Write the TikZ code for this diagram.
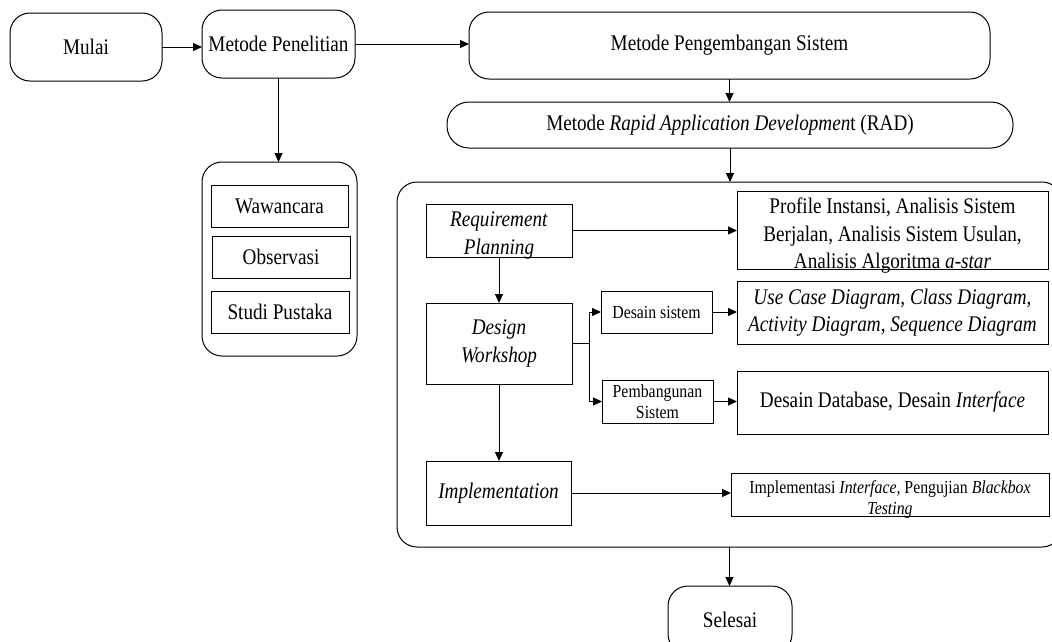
\documentclass[tikz,border=0pt]{standalone}
\usepackage{fontspec}
\setmainfont{Liberation Serif}[FakeStretch=0.86]
\usetikzlibrary{arrows.meta}
\newcommand\bigtxt{\fontsize{22.3}{27.5}\selectfont}
\newcommand\smalltxt{\fontsize{18.4}{21}\selectfont}
\begin{document}
\begin{tikzpicture}[x=1pt,y=-1pt,
  every node/.style={inner sep=2pt, outer sep=0pt, align=center, font=\bigtxt},
  rbox/.style={draw, line width=1pt, rounded corners=20pt},
  sbox/.style={draw, line width=1pt},
  conn/.style={line width=1pt, -{Triangle[length=9pt,width=8pt]}},
  plain/.style={line width=1pt}]
\clip (0,0) rectangle (1052,641);

% start and research method
\node[rbox, minimum width=152pt, minimum height=68pt] (mulai) at (86,47) {Mulai};
\node[rbox, minimum width=153pt, minimum height=68pt] (mp) at (278.5,44) {Metode Penelitian};

% data collection methods
\node[rbox, minimum width=155pt, minimum height=194pt] (mc) at (279.5,259) {};
\node[sbox, minimum width=137pt, minimum height=42pt] (waw) at (279.5,206) {Wawancara};
\node[sbox, minimum width=138pt, minimum height=42pt] (obs) at (281,257) {Observasi};
\node[sbox, minimum width=138pt, minimum height=42pt] (stu) at (280,312) {Studi Pustaka};

% system development method
\node[rbox, minimum width=521pt, minimum height=67pt] (mps) at (729.5,45.5) {Metode Pengembangan Sistem};
\node[rbox, rounded corners=22pt, minimum width=566pt, minimum height=46pt] (rad) at (730,125)
  {Metode \textit{Rapid Application Developmen}t (RAD)};

% RAD phases
\node[rbox, minimum width=665pt, minimum height=365pt] (cont) at (729.5,364.5) {};
\node[sbox, minimum width=146pt, minimum height=53pt,
  label={[yshift=-5pt]center:{\textit{Requirement}\\\textit{Planning}}}] (rp) at (499,230.5) {};
\node[sbox, minimum width=146pt, minimum height=81pt] (dw) at (499,343.5)
  {\textit{Design}\\\textit{Workshop}};
\node[sbox, minimum width=145pt, minimum height=64pt] (impl) at (498.5,493) {\textit{Implementation}};

\node[sbox, minimum width=111pt, minimum height=42pt, font=\smalltxt] (ds) at (656.5,312) {Desain sistem};
\node[sbox, minimum width=111pt, minimum height=43pt, font=\smalltxt] (pb) at (657.5,401.5)
  {Pembangunan\\Sistem};

\node[sbox, minimum width=311pt, minimum height=78pt,
  label={[yshift=-6pt]center:{Profile Instansi, Analisis Sistem\\Berjalan, Analisis Sistem Usulan,\\Analisis Algoritma \textit{a-star}}}]
  (prof) at (892.5,230) {};
\node[sbox, minimum width=311pt, minimum height=63pt] (uc) at (892.5,312.5)
  {\textit{Use Case Diagram, Class Diagram,}\\\textit{Activity Diagram, Sequence Diagram}};
\node[sbox, minimum width=311pt, minimum height=63pt] (ddb) at (892.5,402.5)
  {Desain Database, Desain \textit{Interface}};
\node[sbox, minimum width=318pt, minimum height=43pt,
  label={[yshift=-5pt, font=\smalltxt]center:{Implementasi \textit{Interface}, Pengujian \textit{Blackbox}\\\textit{Testing}}}]
  (ib) at (890,494.5) {};

% finish
\node[rbox, minimum width=124pt, minimum height=68pt] (sel) at (730,620) {Selesai};

% connectors
\draw[conn] (mulai.east) -- (mulai.east -| mp.west);
\draw[conn] (mp.east) -- (mp.east -| mps.west);
\draw[conn] (mp.south) -- (mp.south |- mc.north);
\draw[conn] (mps.south) -- (mps.south |- rad.north);
\draw[conn] (rad.south) -- (rad.south |- cont.north);
\draw[conn] (cont.south) -- (cont.south |- sel.north);

\draw[conn] (rp.east) -- (rp.east -| prof.west);
\draw[conn] (rp.south) -- (rp.south |- dw.north);
\coordinate (fork) at (589,343.5);
\draw[plain] (dw.east) -- (fork);
\draw[conn] (fork) |- (ds.west);
\draw[conn] (fork) |- (pb.west);
\draw[conn] (ds.east) -- (ds.east -| uc.west);
\draw[conn] (pb.east) -- (pb.east -| ddb.west);
\draw[conn] (dw.south) -- (dw.south |- impl.north);
\draw[conn] (impl.east) -- (impl.east -| ib.west);
\end{tikzpicture}
\end{document}
